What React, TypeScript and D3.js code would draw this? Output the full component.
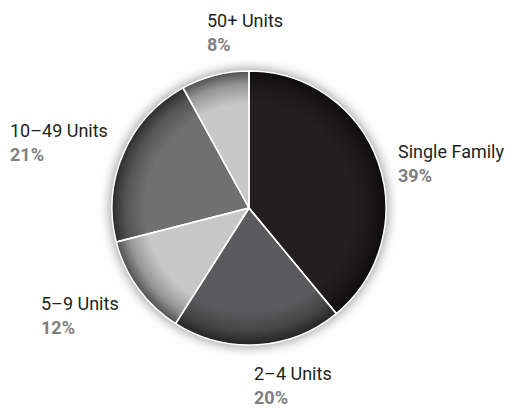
import * as d3 from "d3"

const categories = ["Single Family", "2–4 Units", "5–9 Units", "10–49 Units", "50+ Units"]
const shares = [39, 20, 12, 21, 8]
const sliceColors = ["#231f20", "#5b5b5d", "#c8c8c8", "#707070", "#c8c8c8"]

// label anchor (left x, baseline of the name line)
const labelPos: [number, number][] = [
  [398, 158],
  [254, 380],
  [41, 310],
  [10, 137],
  [207, 27],
]

const W = 514
const H = 408
const cx = 249
const cy = 208
const R = 137

export default function App() {
  const pie = d3
    .pie<number>()
    .sort(null)
    .value((d) => d)
  const arcs = pie(shares)
  const arc = d3.arc<d3.PieArcDatum<number>>().innerRadius(0).outerRadius(R)

  return (
    <svg
      width={W}
      height={H}
      style={{ position: "absolute", left: 0, top: 0, background: "#fff" }}
      fontFamily="Roboto, 'Liberation Sans', sans-serif"
    >
      <defs>
        <filter id="soft" x="-30%" y="-30%" width="160%" height="160%">
          <feGaussianBlur stdDeviation="6" />
        </filter>
        <radialGradient id="rim" cx={cx} cy={cy} r={R} gradientUnits="userSpaceOnUse">
          <stop offset="0.76" stopColor="#000" stopOpacity={0} />
          <stop offset="0.9" stopColor="#000" stopOpacity={0.25} />
          <stop offset="1" stopColor="#000" stopOpacity={0.6} />
        </radialGradient>
      </defs>

      <circle cx={cx} cy={cy} r={R + 2} fill="#9a9a9a" filter="url(#soft)" />

      <g transform={`translate(${cx},${cy})`}>
        {arcs.map((a, i) => (
          <path key={categories[i]} d={arc(a) ?? ""} fill={sliceColors[i]} />
        ))}
      </g>
      <circle cx={cx} cy={cy} r={R} fill="url(#rim)" />
      <g transform={`translate(${cx},${cy})`}>
        {arcs.map((a, i) => (
          <path
            key={"s" + categories[i]}
            d={arc(a) ?? ""}
            fill="none"
            stroke="#fff"
            strokeWidth={1.5}
            strokeLinejoin="round"
          />
        ))}
      </g>

      {categories.map((c, i) => (
        <g key={"l" + c}>
          <text x={labelPos[i][0]} y={labelPos[i][1]} fontSize={18} fill="#231f20">
            {c}
          </text>
          <text
            x={labelPos[i][0]}
            y={labelPos[i][1] + 24}
            fontSize={18}
            fontWeight="bold"
            fill="#808080"
          >
            {shares[i]}%
          </text>
        </g>
      ))}
    </svg>
  )
}
